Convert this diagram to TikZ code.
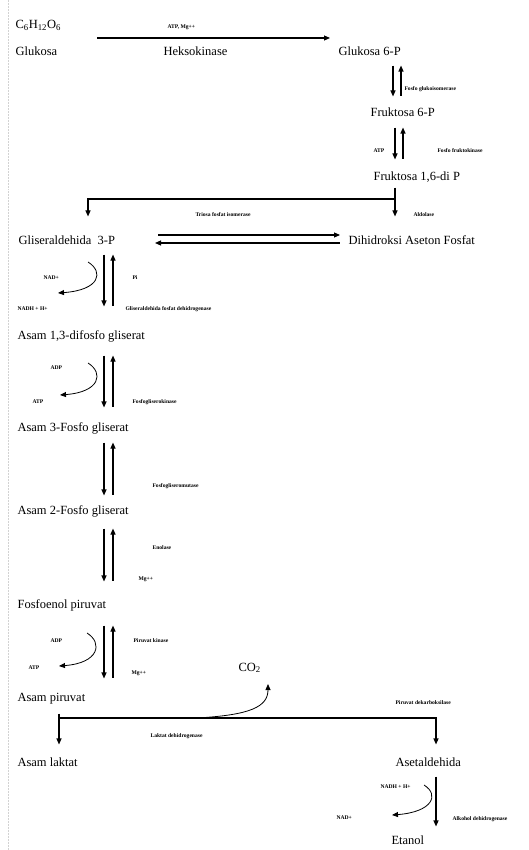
\documentclass[tikz,border=0pt]{standalone}
\usepackage{fontspec}
\setmainfont{Liberation Serif}
\usetikzlibrary{arrows.meta}

\begin{document}
\begin{tikzpicture}[x=1pt, y=-1pt, >={Triangle[length=6pt, width=5pt]}, line width=1.1pt,
	met/.style={anchor=base west, inner sep=0pt, text height=9pt, text depth=3pt, font=\fontsize{12.5}{14}\selectfont},
	enz/.style={anchor=base west, inner sep=0pt, font=\fontsize{5.6}{6.5}\selectfont\bfseries}]
	\useasboundingbox (0,0) rectangle (529,850);
	\draw[gray!35, line width=0.5pt, densely dotted] (8,0) -- (8,850);
	% metabolites
	\node[met] (glcf) at (15,29) {C\textsubscript{6}H\textsubscript{12}O\textsubscript{6}};
	\node[met] (glc) at (15,56) {Glukosa};
	\node[met] (hk) at (163,56) {Heksokinase};
	\node[met] (g6p) at (338,56) {Glukosa 6-P};
	\node[met] (f6p) at (370,117) {Fruktosa 6-P};
	\node[met] (f16) at (373,181) {Fruktosa 1,6-di P};
	\node[met] (g3p) at (18,244) {Gliseraldehida~ 3-P};
	\node[met] (dhap) at (348,244) {Dihidroksi Aseton Fosfat};
	\node[met] (bpg) at (17,339) {Asam 1,3-difosfo gliserat};
	\node[met] (pgt) at (17,431) {Asam 3-Fosfo gliserat};
	\node[met] (pgd) at (17,514) {Asam 2-Fosfo gliserat};
	\node[met] (pep) at (17,608) {Fosfoenol piruvat};
	\node[met] (co2) at (238,671) {CO\textsubscript{2}};
	\node[met] (pyr) at (17,701) {Asam piruvat};
	\node[met] (lak) at (17,766) {Asam laktat};
	\node[met] (ace) at (395,766) {Asetaldehida};
	\node[met] (eth) at (391,844) {Etanol};
	% enzymes and cofactors
	\node[enz] (atpa) at (167,29) {ATP, Mg++};
	\node[enz] (pgi) at (404,91) {Fosfo glukoisomerase};
	\node[enz] (atpb) at (373,153) {ATP};
	\node[enz] (pfk) at (437,153) {Fosfo fruktokinase};
	\node[enz] (tpi) at (195,216) {Triosa fosfat isomerase};
	\node[enz] (ald) at (413,216) {Aldolase};
	\node[enz] (nada) at (43,279) {NAD+};
	\node[enz] (pi) at (132,279) {Pi};
	\node[enz] (nadha) at (17,310) {NADH + H+};
	\node[enz] (gapdh) at (125,310) {Gliseraldehida fosfat dehidrogenase};
	\node[enz] (adpa) at (50,369) {ADP};
	\node[enz] (atpc) at (32,403) {ATP};
	\node[enz] (pgk) at (132,403) {Fosfogliserokinase};
	\node[enz] (pgm) at (152,487) {Fosfogliseromutase};
	\node[enz] (eno) at (152,549) {Enolase};
	\node[enz] (mga) at (138,580) {Mg++};
	\node[enz] (adpb) at (50,642) {ADP};
	\node[enz] (pk) at (133,642) {Piruvat kinase};
	\node[enz] (atpd) at (28,669) {ATP};
	\node[enz] (mgb) at (131,674) {Mg++};
	\node[enz] (pdc) at (395,704) {Piruvat dekarboksilase};
	\node[enz] (ldh) at (150,737) {Laktat dehidrogenase};
	\node[enz] (nadhb) at (380,788) {NADH + H+};
	\node[enz] (nadb) at (336,819) {NAD+};
	\node[enz] (adh) at (452,820) {Alkohol dehidrogenase};
	% reversible steps
	\foreach \a/\b/\d/\u/\s/\e in {g6p/f6p/393/401/6/11, f6p/f16/395/403/7/12, g3p/bpg/104/113/7/23, bpg/pgt/104/113/13/14, pgt/pgd/104/113/8/9, pgd/pep/104/113/11/17, pep/pyr/104/113/14/13} {
		\draw[->] ([yshift=-\s pt]\a.south -| \d,0) -- ([yshift=\e pt]\b.north -| \d,0);
		\draw[<-] ([yshift=-\s pt]\a.south -| \u,0) -- ([yshift=\e pt]\b.north -| \u,0);
	}
	\draw[->] ([yshift=15pt]glc.east -| 97,0) -- ([yshift=15pt]g6p.west -| 330,0);
	\draw[->] ([yshift=6pt]g3p.east -| 158,0) -- ([yshift=6pt, xshift=-8pt]dhap.west);
	\draw[<-] ([yshift=-2pt]g3p.east -| 155,0) -- ([yshift=-2pt, xshift=-8pt]dhap.west);
	% branches
	\coordinate (forka) at (395,199);
	\coordinate (forkb) at (59,718);
	\draw[->] ([yshift=-3pt]f16.south -| 395,0) -- ([yshift=18pt]dhap.north -| 395,0);
	\draw[->] (forka) -| ([yshift=18pt]g3p.north -| 88,0);
	\draw[->] ([yshift=-9pt]pyr.south -| 59,0) -- ([yshift=12pt]lak.north -| 59,0);
	\draw[->] (forkb) -| ([yshift=12pt]ace.north -| 436,0);
	\draw[->] ([yshift=-7pt]ace.south -| 436,0) -- ([yshift=8pt]eth.north -| 436,0);
	% cofactor curves
	\coordinate (cua) at (88,262); \coordinate (cub) at (58,293);
	\coordinate (cuc) at (88,363); \coordinate (cud) at (60,395);
	\coordinate (cue) at (87,633); \coordinate (cuf) at (59,666);
	\coordinate (cug) at (424,785); \coordinate (cuh) at (392,815);
	\coordinate (cui) at (197,718); \coordinate (cuj) at (268,684);
	\draw[->, line width=0.8pt] (cua) .. controls (104,272) and (100,290) .. (cub);
	\draw[->, line width=0.8pt] (cuc) .. controls (104,373) and (100,392) .. (cud);
	\draw[->, line width=0.8pt] (cue) .. controls (103,643) and (99,663) .. (cuf);
	\draw[->, line width=0.8pt] (cug) .. controls (440,795) and (432,812) .. (cuh);
	\draw[->, line width=0.8pt] (cui) .. controls (250,715) and (268,707) .. (cuj);
\end{tikzpicture}
\end{document}
